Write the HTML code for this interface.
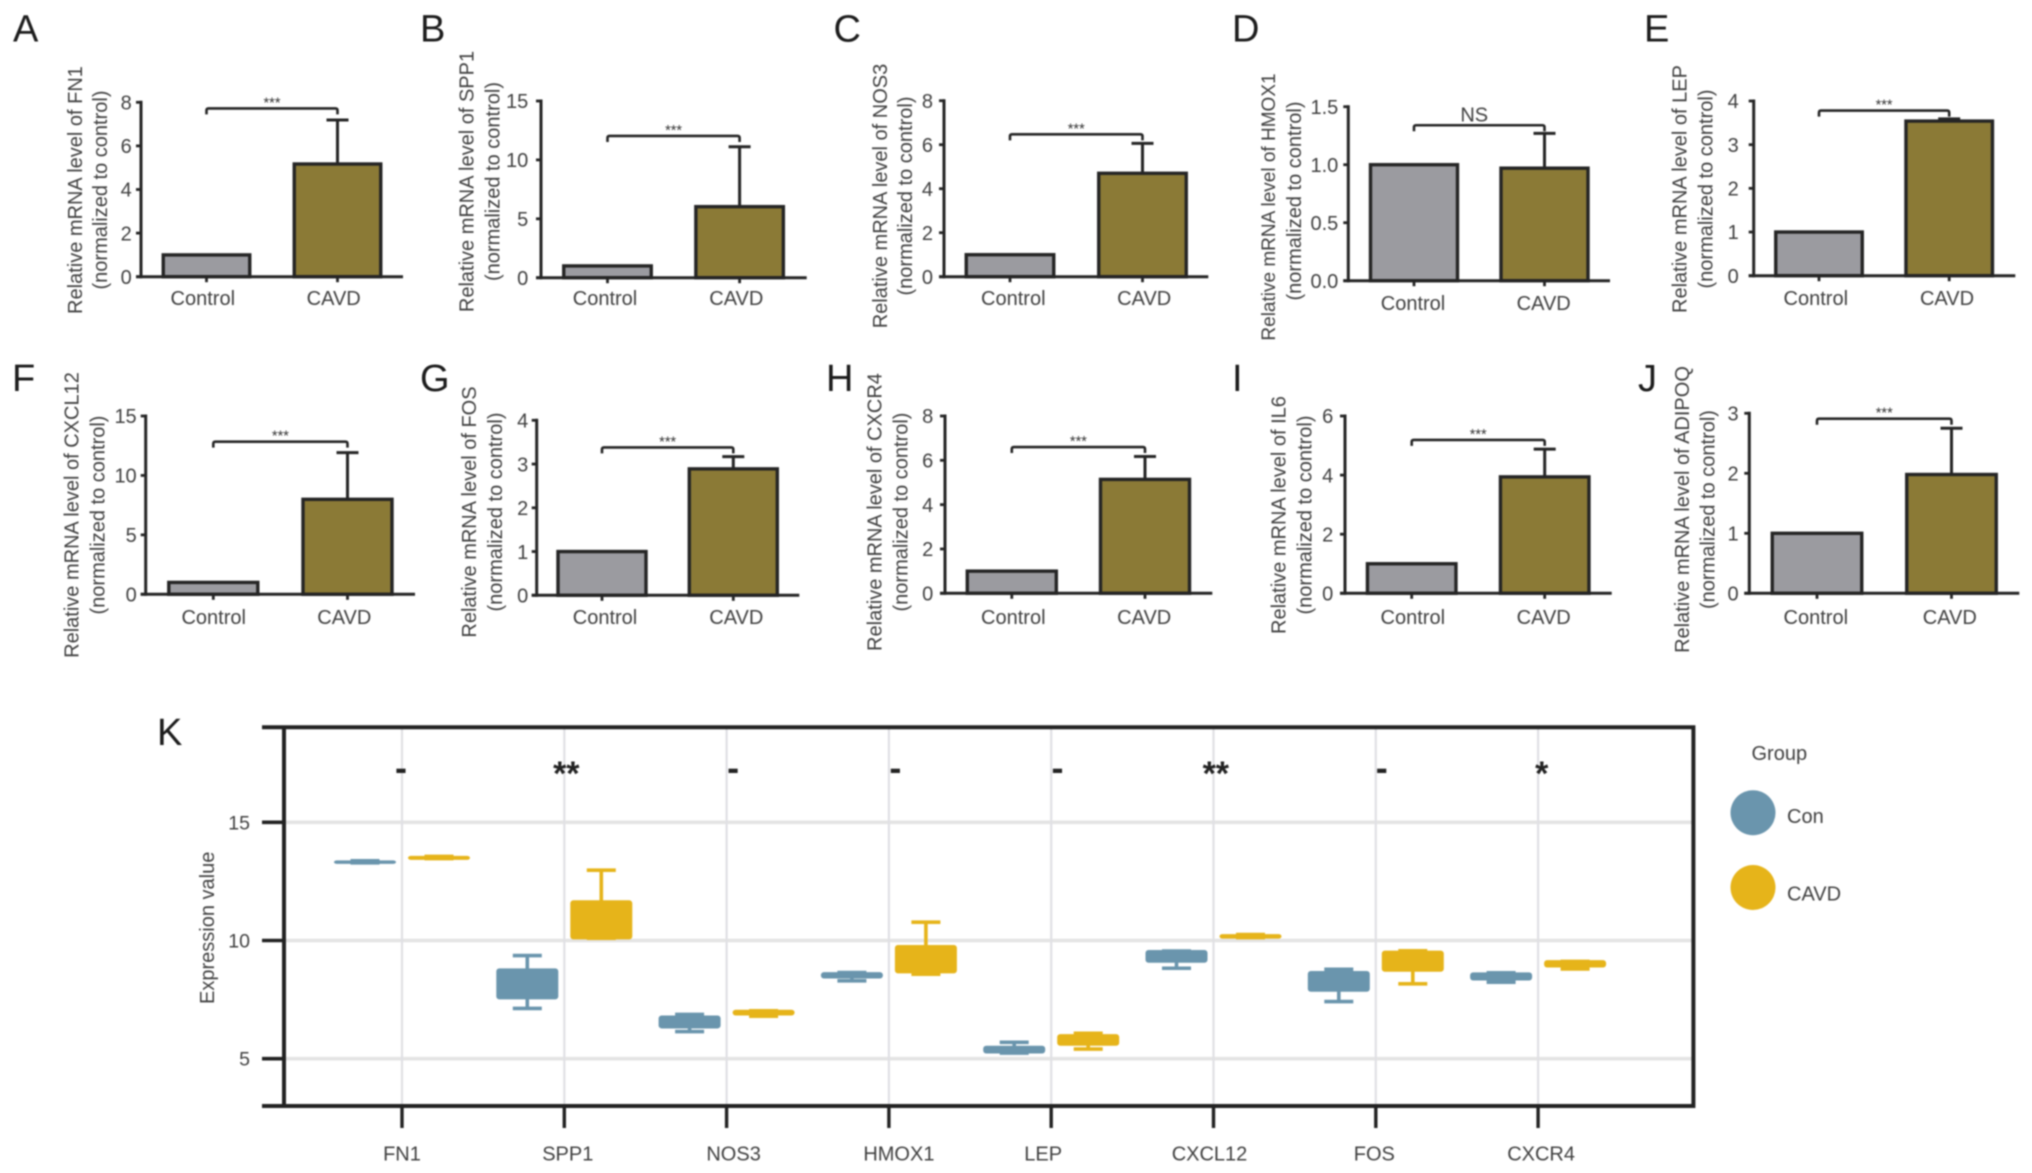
<!DOCTYPE html>
<html lang="en">
<head>
<meta charset="utf-8">
<title>Relative mRNA levels and expression values, Control vs CAVD</title>
<style>
html,body{margin:0;padding:0;background:#fff;width:2032px;height:1173px;overflow:hidden}
svg{display:block;filter:blur(0.7px)}
text{font-family:"Liberation Sans",Arial,sans-serif;fill:#404040}
</style>
</head>
<body>
<svg id="figure" xmlns="http://www.w3.org/2000/svg" width="2032" height="1173" viewBox="0 0 2032 1173">
<rect x="0" y="0" width="2032" height="1173" fill="#ffffff"></rect>
</svg>
<script>
/* ---------- bar panel data ---------- */
const panelLetters = ['A','B','C','D','E','F','G','H','I','J'];
const panelGenes = ['FN1','SPP1','NOS3','HMOX1','LEP','CXCL12','FOS','CXCR4','IL6','ADIPOQ'];
const barCategories = ['Control','CAVD'];
const controlMeans = [1, 1, 1, 1, 1, 1, 1, 1, 1, 1];
const cavdMeans = [5.17, 6.03, 4.70, 0.97, 3.54, 7.99, 2.89, 5.14, 3.94, 1.98];
const cavdErrorTops = [7.19, 11.12, 6.06, 1.27, 3.59, 11.92, 3.17, 6.17, 4.88, 2.75];
const bracketLevels = [7.72, 12.03, 6.47, 1.34, 3.78, 12.84, 3.38, 6.60, 5.19, 2.91];
const significanceMarks = ['***','***','***','NS','***','***','***','***','***','***'];
const tickLabelsA = ['0','2','4','6','8'];
const tickLabelsB = ['0','5','10','15'];
const tickLabelsC = ['0','2','4','6','8'];
const tickLabelsD = ['0.0','0.5','1.0','1.5'];
const tickLabelsE = ['0','1','2','3','4'];
const tickLabelsF = ['0','5','10','15'];
const tickLabelsG = ['0','1','2','3','4'];
const tickLabelsH = ['0','2','4','6','8'];
const tickLabelsI = ['0','2','4','6'];
const tickLabelsJ = ['0','1','2','3'];
const panelTickLabels = [tickLabelsA,tickLabelsB,tickLabelsC,tickLabelsD,tickLabelsE,tickLabelsF,tickLabelsG,tickLabelsH,tickLabelsI,tickLabelsJ];

/* ---------- box plot data (panel K) ---------- */
const boxGenes = ['FN1','SPP1','NOS3','HMOX1','LEP','CXCL12','FOS','CXCR4'];
const boxSignificance = ['-','**','-','-','-','**','-','*'];
const boxTickLabels = ['5','10','15'];
const conMin = [13.21, 7.05, 6.07, 8.22, 5.16, 8.75, 7.34, 8.16];
const conQ1  = [13.24, 7.51, 6.28, 8.39, 5.22, 9.06, 7.83, 8.31];
const conQ3  = [13.39, 8.82, 6.83, 8.66, 5.55, 9.60, 8.71, 8.65];
const conMax = [13.45, 9.44, 6.95, 8.72, 5.77, 9.63, 8.86, 8.71];
const cavdMin = [13.39, 10.02, 6.72, 8.50, 5.33, 10.05, 8.09, 8.72];
const cavdQ1  = [13.41, 10.05, 6.83, 8.61, 5.55, 10.08, 8.68, 8.86];
const cavdQ3  = [13.58, 11.70, 7.07, 9.81, 6.04, 10.27, 9.57, 9.17];
const cavdMax = [13.63, 13.05, 7.10, 10.85, 6.15, 10.33, 9.64, 9.19];
const legendTitle = 'Group';
const legendLabels = ['Con','CAVD'];

/* ---------- layout ---------- */
const frames = [
 {axisX:141,  y0:276.7,yTop:102.3,xEnd:403,   c1:206.5, c2:337.5, t1:202.8, t2:333.7, ty:305,w:87.5,gap:9.3, l1:75,    l2:100,   m1:190,  m2:190,  fs:20,lx:13,  ly:41.7},
 {axisX:541,  y0:277.7,yTop:101,  xEnd:806.7, c1:607.5, c2:739.6, t1:605,   t2:736.3, ty:305,w:88.5,gap:12.7,l1:466.7, l2:492.3, m1:181.5,m2:181.5,fs:20,lx:420, ly:41.7},
 {axisX:944,  y0:276.7,yTop:100.7,xEnd:1208.3,c1:1010,  c2:1142.5,t1:1013.3,t2:1144.2,ty:305,w:88.5,gap:11,  l1:880,   l2:905,   m1:196,  m2:196,  fs:20,lx:833.5,ly:41.7},
 {axisX:1348.3,y0:280.7,yTop:106.7,xEnd:1610, c1:1414,  c2:1544.5,t1:1413,  t2:1543.7,ty:310,w:88,  gap:10,  l1:1268,  l2:1294,  m1:207,  m2:201,  fs:19,lx:1232,ly:41.7},
 {axisX:1753.7,y0:275.7,yTop:101, xEnd:2015.3,c1:1819,  c2:1949.2,t1:1815.8,t2:1947,  ty:305,w:87.5,gap:15,  l1:1679.7,l2:1705.3,m1:189,  m2:189,  fs:20,lx:1644,ly:41.7},
 {axisX:145.7,y0:594.3,yTop:416,  xEnd:415,   c1:213.3, c2:347.5, t1:213.7, t2:344.3, ty:624,w:90,  gap:9,   l1:71.7,  l2:97.7,  m1:515,  m2:515,  fs:20,lx:12,  ly:391},
 {axisX:536.7,y0:595.3,yTop:420.3,xEnd:799.3, c1:602,   c2:733.3, t1:605,   t2:736.3, ty:624,w:89,  gap:8.5, l1:469,   l2:495,   m1:512,  m2:512,  fs:20,lx:420, ly:391},
 {axisX:945,  y0:593.3,yTop:416,  xEnd:1212.3,c1:1011.8,c2:1145,  t1:1013.3,t2:1144.2,ty:624,w:90,  gap:11.7,l1:874.3, l2:900.7, m1:512,  m2:512,  fs:20,lx:826, ly:391},
 {axisX:1345, y0:593.3,yTop:416,  xEnd:1611.7,c1:1411.7,c2:1544.7,t1:1412.8,t2:1543.7,ty:624,w:89.5,gap:11.7,l1:1278.3,l2:1304.3,m1:515,  m2:515,  fs:20,lx:1232,ly:391},
 {axisX:1749.3,y0:593.3,yTop:413.3,xEnd:2019.3,c1:1817,c2:1951.5,t1:1815.8,t2:1949.8,ty:624,w:90.5,gap:10.7,l1:1682,  l2:1707.7,m1:509.5,m2:509.5,fs:20,lx:1638,ly:391}
];
const kLabelNudge = [0, 3.5, 7, 10, -8, -4, -1.5, 3];
const kSigNudge = [-1, 2, 6.5, 6.5, 6.3, 2.3, 6, 3.7];

const INK = '#252525';
const CONTROL_FILL = '#9b9ba0';
const CAVD_FILL = '#8b7a36';
const CON_BOX = '#6a95ad';
const CAVD_BOX = '#e6b41a';

const svg = document.getElementById('figure');

function mk(parent, tag, attrs, txt) {
  const el = document.createElementNS('http://www.w3.org/2000/svg', tag);
  for (const k in attrs) el.setAttribute(k, attrs[k]);
  if (txt !== undefined) el.textContent = txt;
  parent.appendChild(el);
  return el;
}

/* ---------- bar panels ---------- */
panelLetters.forEach(function (letter, p) {
  const f = frames[p];
  const ticks = panelTickLabels[p];
  const axisMax = parseFloat(ticks[ticks.length - 1]);
  const yScale = function (v) { return f.y0 - (v / axisMax) * (f.y0 - f.yTop); };

  const g = mk(svg, 'g', {});
  
  

  const letterEl = mk(g, 'text', {x: f.lx, y: f.ly, 'font-size': 38, style: 'fill:#1c1c1c'}, letter);
  
  

  const t1 = mk(g, 'text', {x: f.l1 + 7, y: f.m1, 'font-size': f.fs, 'text-anchor': 'middle', transform: 'rotate(-90 ' + (f.l1 + 7) + ' ' + f.m1 + ')'}, 'Relative mRNA level of ' + panelGenes[p]);
  
  
  const t2 = mk(g, 'text', {x: f.l2 + 7, y: f.m2, 'font-size': 20, 'text-anchor': 'middle', transform: 'rotate(-90 ' + (f.l2 + 7) + ' ' + f.m2 + ')'}, '(normalized to control)');
  
  

  /* bars */
  [controlMeans[p], cavdMeans[p]].forEach(function (v, i) {
    const cx = i === 0 ? f.c1 : f.c2;
    const bar = mk(g, 'rect', {x: cx - f.w / 2 + 0.5, y: yScale(v), width: f.w - 1, height: f.y0 - yScale(v), fill: i === 0 ? CONTROL_FILL : CAVD_FILL, stroke: INK, 'stroke-width': 3.4});
    
    
  });

  /* error bar */
  const eTop = yScale(cavdErrorTops[p]);
  const eBase = yScale(cavdMeans[p]);
  const stem = mk(g, 'line', {x1: f.c2, x2: f.c2, y1: eTop, y2: eBase, stroke: INK, 'stroke-width': 3});
  
  
  const cap = mk(g, 'line', {x1: f.c2 - 11, x2: f.c2 + 11, y1: eTop, y2: eTop, stroke: INK, 'stroke-width': 3});
  
  

  /* axes */
  const yAxis = mk(g, 'line', {x1: f.axisX, x2: f.axisX, y1: f.yTop - 1.5, y2: f.y0 + 1.5, stroke: INK, 'stroke-width': 3});
  
  
  const xAxis = mk(g, 'line', {x1: f.axisX - 5, x2: f.xEnd, y1: f.y0, y2: f.y0, stroke: INK, 'stroke-width': 3});
  
  

  ticks.forEach(function (lab) {
    const ty = yScale(parseFloat(lab));
    const tick = mk(g, 'line', {x1: f.axisX - 5, x2: f.axisX, y1: ty, y2: ty, stroke: INK, 'stroke-width': 2.8});
    
    
    const tl = mk(g, 'text', {x: f.axisX - f.gap, y: ty + 7.2, 'font-size': 20, 'text-anchor': 'end'}, lab);
    
    
  });

  barCategories.forEach(function (name, i) {
    const cx = i === 0 ? f.c1 : f.c2;
    const tick = mk(g, 'line', {x1: cx, x2: cx, y1: f.y0, y2: f.y0 + 5.5, stroke: INK, 'stroke-width': 2.8});
    
    
    const cl = mk(g, 'text', {x: i === 0 ? f.t1 : f.t2, y: f.ty, 'font-size': 20, 'text-anchor': 'middle'}, name);
    
    
  });

  /* significance bracket */
  const by = yScale(bracketLevels[p]);
  const br = mk(g, 'path', {d: 'M' + f.c1 + ' ' + (by + 6) + 'V' + (by + 2) + 'Q' + f.c1 + ' ' + by + ' ' + (f.c1 + 2) + ' ' + by + 'H' + (f.c2 - 2) + 'Q' + f.c2 + ' ' + by + ' ' + f.c2 + ' ' + (by + 2) + 'V' + (by + 6), fill: 'none', stroke: INK, 'stroke-width': 2.6});
  
  
  const mark = significanceMarks[p];
  const isNS = mark === 'NS';
  const sig = mk(g, 'text', {x: (f.c1 + f.c2) / 2 - (isNS ? 5 : 0), y: isNS ? by - 3.6 : by - 1, 'font-size': isNS ? 20 : 14.5, 'text-anchor': 'middle', style: isNS ? 'fill:#404040' : 'fill:#333'}, mark);
  
  
});

/* ---------- panel K ---------- */
const kLeft = 284, kRight = 1693.4, kTop = 727.3, kBottom = 1106;
const kFirstCat = 402, kCatStep = 162.3, kBoxOffset = 37, kBoxWidth = 62, kCapWidth = 29, kCapStroke = 3.6;
const kX = function (i) { return kFirstCat + i * kCatStep; };
const kY = function (v) { return 1058.7 - (v - 5) * 23.64; };
const kInk = '#222222';

const kg = mk(svg, 'g', {});



const kLetter = mk(kg, 'text', {x: 157, y: 745, 'font-size': 38, style: 'fill:#1c1c1c'}, 'K');



boxTickLabels.forEach(function (lab) {
  const gy = kY(parseFloat(lab));
  const grid = mk(kg, 'line', {x1: kLeft, x2: kRight, y1: gy, y2: gy, stroke: '#e4e4e4', 'stroke-width': 3.6});
  
  
});
boxGenes.forEach(function (name, i) {
  const grid = mk(kg, 'line', {x1: kX(i), x2: kX(i), y1: kTop, y2: kBottom, stroke: '#e0e0e4', 'stroke-width': 2.2});
  
  
});

function drawBox(i, cx, lo, q1, q3, hi, color, label) {
  const yHi = kY(hi) + kCapStroke / 2;
  const yLo = kY(lo) - kCapStroke / 2;
  const wLine = mk(kg, 'line', {x1: cx, x2: cx, y1: yHi, y2: yLo, stroke: color, 'stroke-width': 3.6});
  
  
  const capHi = mk(kg, 'line', {x1: cx - kCapWidth / 2, x2: cx + kCapWidth / 2, y1: yHi, y2: yHi, stroke: color, 'stroke-width': kCapStroke});
  
  
  const capLo = mk(kg, 'line', {x1: cx - kCapWidth / 2, x2: cx + kCapWidth / 2, y1: yLo, y2: yLo, stroke: color, 'stroke-width': kCapStroke});
  
  
  const box = mk(kg, 'rect', {x: cx - kBoxWidth / 2, y: kY(q3), width: kBoxWidth, height: Math.max(kY(q1) - kY(q3), 1), rx: 3, ry: 3, fill: color});
  
  
}
boxGenes.forEach(function (name, i) {
  drawBox(i, kX(i) - kBoxOffset, conMin[i], conQ1[i], conQ3[i], conMax[i], CON_BOX, 'con');
  drawBox(i, kX(i) + kBoxOffset, cavdMin[i], cavdQ1[i], cavdQ3[i], cavdMax[i], CAVD_BOX, 'cavd');
});

const kFrame = mk(kg, 'path', {d: 'M262 ' + kTop + 'H' + kRight + 'V' + kBottom + 'H262M' + kLeft + ' ' + kTop + 'V' + kBottom, fill: 'none', stroke: kInk, 'stroke-width': 4});



boxTickLabels.forEach(function (lab) {
  const ty = kY(parseFloat(lab));
  const tick = mk(kg, 'line', {x1: 262, x2: kLeft, y1: ty, y2: ty, stroke: kInk, 'stroke-width': 3.6});
  
  
  const tl = mk(kg, 'text', {x: 250, y: ty + 7, 'font-size': 19.5, 'text-anchor': 'end'}, lab);
  
  
});

boxGenes.forEach(function (name, i) {
  const tick = mk(kg, 'line', {x1: kX(i), x2: kX(i), y1: kBottom, y2: kBottom + 22, stroke: kInk, 'stroke-width': 3.4});
  
  
  const cl = mk(kg, 'text', {x: kX(i) + kLabelNudge[i], y: 1160.5, 'font-size': 20, 'text-anchor': 'middle'}, name);
  
  
  const s = boxSignificance[i];
  const dash = s === '-';
  const sl = mk(kg, 'text', {x: kX(i) + kSigNudge[i], y: dash ? 780 : 785, 'font-size': dash ? 36 : 34, 'font-weight': 'bold', 'text-anchor': 'middle', style: 'fill:#222'}, s);
  
  
});

const kTitle = mk(kg, 'text', {x: 214, y: 927.8, 'font-size': 20, 'text-anchor': 'middle', transform: 'rotate(-90 214 927.8)'}, 'Expression value');



/* legend */
const lg = mk(svg, 'g', {});


const lt = mk(lg, 'text', {x: 1751.5, y: 760, 'font-size': 20}, legendTitle);


legendLabels.forEach(function (lab, i) {
  const cy = i === 0 ? 812.7 : 887.5;
  const dot = mk(lg, 'circle', {cx: 1753, cy: cy, r: 22.5, fill: i === 0 ? CON_BOX : CAVD_BOX});
  
  
  const tx = mk(lg, 'text', {x: 1787, y: cy + 10.5 + i * 2.5, 'font-size': 20}, lab);
  
  
});
</script>
</body>
</html>
